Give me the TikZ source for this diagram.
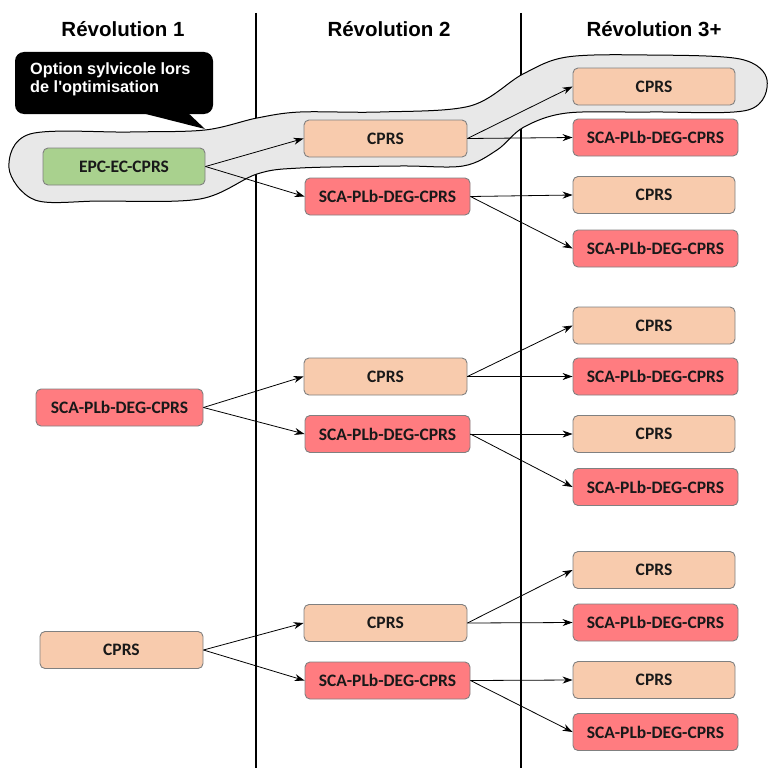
\documentclass[tikz,border=0pt]{standalone}
\usepackage{fontspec}
\setmainfont{Liberation Sans}
\newfontfamily\boxfont{Carlito}
\usetikzlibrary{arrows.meta}
\definecolor{peach}{RGB}{248,203,173}
\definecolor{redbox}{RGB}{255,124,128}
\definecolor{greenbox}{RGB}{169,209,142}
\definecolor{blobgray}{RGB}{232,232,232}
\begin{document}
\begin{tikzpicture}[x=1pt,y=-1pt,
  box/.style={draw=black!50, line width=0.9pt, rounded corners=5pt, minimum height=37pt,
    font=\boxfont\bfseries\fontsize{17.5}{20}\selectfont, text=black!90, inner sep=0pt},
  cp/.style={box, fill=peach, minimum width=163pt},
  sca/.style={box, fill=redbox, minimum width=165pt},
  epc/.style={box, fill=greenbox, minimum width=162pt},
  hdr/.style={font=\bfseries\fontsize{20.5}{24}\selectfont},
  arr/.style={-{Stealth[length=10pt,width=7pt]}, line width=0.8pt},
  sep/.style={line width=1.6pt}]
\useasboundingbox (0,0) rectangle (770,768);
% headers
\node[hdr] (h1) at (123,29) {Révolution 1};
\node[hdr] (h2) at (389,29) {Révolution 2};
\node[hdr] (h3) at (654,29) {Révolution 3+};
% separators
\coordinate (s1t) at (256,13); \coordinate (s1b) at (256,768);
\coordinate (s2t) at (521,13); \coordinate (s2b) at (521,768);
\draw[sep] (s1t) -- (s1b);
\draw[sep] (s2t) -- (s2b);
% blob
\draw[fill=blobgray, line width=1pt] plot[smooth cycle, tension=0.55] coordinates {
 (30,134) (130,132) (205,130) (257,118) (300,112) (380,112) (470,106) (523,74)
 (567,57) (647,55) (740,59) (767,80) (748,110) (650,112) (567,113) (524,127)
 (497,150) (463,166) (400,166) (300,168) (257,174) (200,199) (100,201) (35,200) (9,168)};
% callout
\fill[black, rounded corners=9pt] (15,52) rectangle (213,114);
\fill[black] (130,110) -- (185,110) -- (205,129) -- cycle;
\node[anchor=north west, align=left, text=white, font=\bfseries\fontsize{16.3}{18.5}\selectfont, inner sep=0pt] (callout) at (30,62) {Option sylvicole lors\\de l\textquotesingle optimisation};
% column 1
\node[epc] (a1) at (124,166.5) {EPC-EC-CPRS};
\node[sca, minimum width=167pt] (a2) at (119.5,407.5) {SCA-PLb-DEG-CPRS};
\node[cp] (a3) at (121.5,650) {CPRS};
% column 2
\node[cp] (b1) at (385.5,138.5) {CPRS};
\node[sca] (b2) at (387.5,196.5) {SCA-PLb-DEG-CPRS};
\node[cp] (b3) at (385.5,376.5) {CPRS};
\node[sca] (b4) at (387.5,434) {SCA-PLb-DEG-CPRS};
\node[cp] (b5) at (385.5,623) {CPRS};
\node[sca] (b6) at (387.5,680.5) {SCA-PLb-DEG-CPRS};
% column 3
\node[cp, minimum width=162pt] (c1) at (654,86.5) {CPRS};
\node[sca] (c2) at (655.5,137.5) {SCA-PLb-DEG-CPRS};
\node[cp, minimum width=162pt] (c3) at (654,195) {CPRS};
\node[sca] (c4) at (655.5,248.5) {SCA-PLb-DEG-CPRS};
\node[cp, minimum width=162pt] (c5) at (654,325.5) {CPRS};
\node[sca] (c6) at (655.5,376.5) {SCA-PLb-DEG-CPRS};
\node[cp, minimum width=162pt] (c7) at (654,434) {CPRS};
\node[sca] (c8) at (655.5,487) {SCA-PLb-DEG-CPRS};
\node[cp, minimum width=162pt] (c9) at (654,570) {CPRS};
\node[sca] (c10) at (655.5,622.5) {SCA-PLb-DEG-CPRS};
\node[cp, minimum width=162pt] (c11) at (654,680) {CPRS};
\node[sca] (c12) at (655.5,732) {SCA-PLb-DEG-CPRS};
% arrows
\draw[arr] (a1.east) -- (b1.west);
\draw[arr] (a1.east) -- (b2.west);
\draw[arr] (a2.east) -- (b3.west);
\draw[arr] (a2.east) -- (b4.west);
\draw[arr] (a3.east) -- (b5.west);
\draw[arr] (a3.east) -- (b6.west);
\draw[arr] (b1.east) -- (c1.west);
\draw[arr] (b1.east) -- (c2.west);
\draw[arr] (b2.east) -- (c3.west);
\draw[arr] (b2.east) -- (c4.west);
\draw[arr] (b3.east) -- (c5.west);
\draw[arr] (b3.east) -- (c6.west);
\draw[arr] (b4.east) -- (c7.west);
\draw[arr] (b4.east) -- (c8.west);
\draw[arr] (b5.east) -- (c9.west);
\draw[arr] (b5.east) -- (c10.west);
\draw[arr] (b6.east) -- (c11.west);
\draw[arr] (b6.east) -- (c12.west);
\end{tikzpicture}
\end{document}
